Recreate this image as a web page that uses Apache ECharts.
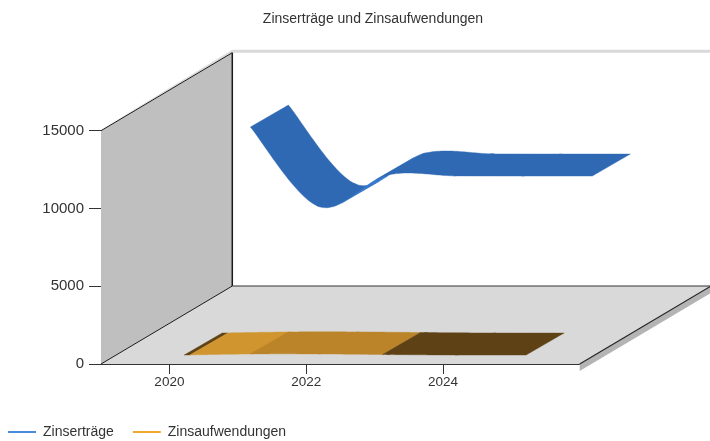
<!DOCTYPE html>
<html><head><meta charset="utf-8">
<style>html,body{margin:0;padding:0;background:#fff}#c{width:710px;height:441px}</style>
<script src="https://cdn.jsdelivr.net/npm/echarts@6/dist/echarts.min.js"></script>
</head><body><div id="c"></div>
<script>
const years = [2020, 2021, 2022, 2023, 2024, 2025];
const tickYears = [2020, 2022, 2024];
const zinsertraege = [12140, 7030, 9050, 9000, 8990, 8990];
const zinsaufwendungen = [10, 80, 80, 40, 10, 10];

const DX = 131.3, DY = 78;              // chart box depth in pixels
const RIBBON = 38;                      // ribbon depth along x
const SLOPE = DY / DX;
const FONT = '"Liberation Sans", Arial, sans-serif';

const blueShade = (t, s) => s < -0.56 ? '#3679cc' : '#2f69b4';
const goldShade = (t) => t < 0.13 ? '#5e4216' : t < 1.0 ? '#d0952f' : t < 2.89 ? '#bb8429' : '#5e4216';

function crPoint(p0, p1, p2, p3, u) {
  const h = (a, b, c, d) => {
    const m1 = (c - a) / 2, m2 = (d - b) / 2, u2 = u * u, u3 = u2 * u;
    return (2*u3-3*u2+1)*b + (u3-2*u2+u)*m1 + (-2*u3+3*u2)*c + (u3-u2)*m2;
  };
  return [h(p0[0], p1[0], p2[0], p3[0]), h(p0[1], p1[1], p2[1], p3[1])];
}

function ribbon(values, offset, shade) {
  return function (params, api) {
    const i = params.dataIndex;
    if (i >= values.length - 1) return { type: 'group', children: [] };
    const pt = k => {
      const q = Math.max(0, Math.min(values.length - 1, k));
      const c = api.coord([years[q], values[q]]);
      return [c[0] + offset, c[1] - offset * SLOPE];
    };
    const p0 = pt(i - 1), p1 = pt(i), p2 = pt(i + 1), p3 = pt(i + 2);
    const N = 30, children = [];
    const depth = p => [p[0] + RIBBON, p[1] - RIBBON * 0.58];
    // each run starts one step early so neighbouring runs overlap and leave no seam
    let a = p1, prev = i > 0 ? crPoint(p0, p1, p2, p3, -1 / N) : p1;
    let run = i > 0 ? [prev, p1] : [p1], runCol = null;
    const flush = () => {
      if (run.length > 1) {
        const pts = run.concat(run.slice().reverse().map(depth));
        children.push({ type: 'polygon', shape: { points: pts }, style: { fill: runCol, stroke: runCol, lineWidth: 0.4 } });
      }
    };
    for (let n = 1; n <= N; n++) {
      const b = crPoint(p0, p1, p2, p3, n / N);
      const col = shade(i + (n - 0.5) / N, (b[1] - a[1]) / (b[0] - a[0]));
      if (runCol !== null && col !== runCol) { flush(); run = [a]; }
      runCol = col;
      run.push(b);
      a = b;
    }
    flush();
    return { type: 'group', children };
  };
}

function frame(params, api) {
  const o = api.coord([2019, 0]), t = api.coord([2019, 15000]), r = api.coord([2026, 0]);
  const line = (a, b, w, c) => ({ type: 'line', shape: { x1: a[0], y1: a[1], x2: b[0], y2: b[1] }, style: { stroke: c || '#1a1a1a', lineWidth: w || 1 } });
  const poly = (pts, c) => ({ type: 'polygon', shape: { points: pts }, style: { fill: c } });
  const back = p => [p[0] + DX, p[1] - DY];
  return { type: 'group', children: [
    poly([[r[0], r[1]], back(r), [back(r)[0], back(r)[1] + 7], [r[0], r[1] + 7]], '#b4b4b4'),
    poly([[t[0], t[1] - 1], back(t), [back(t)[0], back(t)[1] - 3], [t[0] + 3, t[1] - 3]], '#dcdcdc'),
    poly([back(t), [r[0] + DX, t[1] - DY], [r[0] + DX, t[1] - DY - 3], [back(t)[0], back(t)[1] - 3]], '#d9d9d9'),
    poly([o, back(o), back(t), t], '#bfbfbf'),
    poly([o, back(o), back(r), r], '#d9d9d9'),
    line(t, back(t)), line(back(t), back(o), 1.5), line(o, back(o)),
    line(back(o), back(r), 1.2, '#333'), line(r, back(r), 1.2, '#222')
  ] };
}

const rows = arr => years.map((y, i) => [y, arr[i]]);
const chart = echarts.init(document.getElementById('c'), null, { renderer: 'canvas' });
chart.setOption({
  animation: false,
  backgroundColor: '#fff',
  textStyle: { fontFamily: FONT },
  title: { text: 'Zinserträge und Zinsaufwendungen', left: 368, top: 7, textAlign: 'center',
    textStyle: { fontSize: 14, fontWeight: 'normal', color: '#333', fontFamily: FONT } },
  legend: { left: 3, top: 420, icon: 'rect', itemWidth: 28, itemHeight: 2, itemGap: 19,
    textStyle: { fontSize: 14, color: '#333', fontFamily: FONT, padding: [0, 0, 0, 2] },
    data: ['Zinserträge', 'Zinsaufwendungen'] },
  grid: { left: 101, top: 130.7, width: 478.7, height: 233.3 },
  xAxis: { type: 'value', min: 2019, max: 2026, splitLine: { show: false },
    axisLine: { lineStyle: { color: '#333', width: 1 } },
    axisTick: { length: 10, customValues: tickYears, lineStyle: { color: '#333' } },
    axisLabel: { customValues: tickYears, formatter: v => String(v), fontSize: 13.5, margin: 11, color: '#333' } },
  yAxis: { type: 'value', min: 0, max: 15000, interval: 5000, splitLine: { show: false },
    axisLine: { show: true, lineStyle: { color: '#333', width: 1 } },
    axisTick: { show: true, length: 12, lineStyle: { color: '#333' } },
    axisLabel: { formatter: v => String(v), fontSize: 15, margin: 17, color: '#333' } },
  series: [
    { type: 'custom', name: 'frame', z: 1, silent: true, renderItem: frame, data: [[2019, 0]], encode: { x: 0, y: 1 } },
    { type: 'custom', name: 'Zinserträge', z: 2, itemStyle: { color: '#4a8cdc' }, renderItem: ribbon(zinsertraege, 81, blueShade),
      data: rows(zinsertraege), encode: { x: 0, y: 1 } },
    { type: 'custom', name: 'Zinsaufwendungen', z: 2, itemStyle: { color: '#f0a92e' }, renderItem: ribbon(zinsaufwendungen, 14.8, goldShade),
      data: rows(zinsaufwendungen), encode: { x: 0, y: 1 } }
  ]
});
</script></body></html>
